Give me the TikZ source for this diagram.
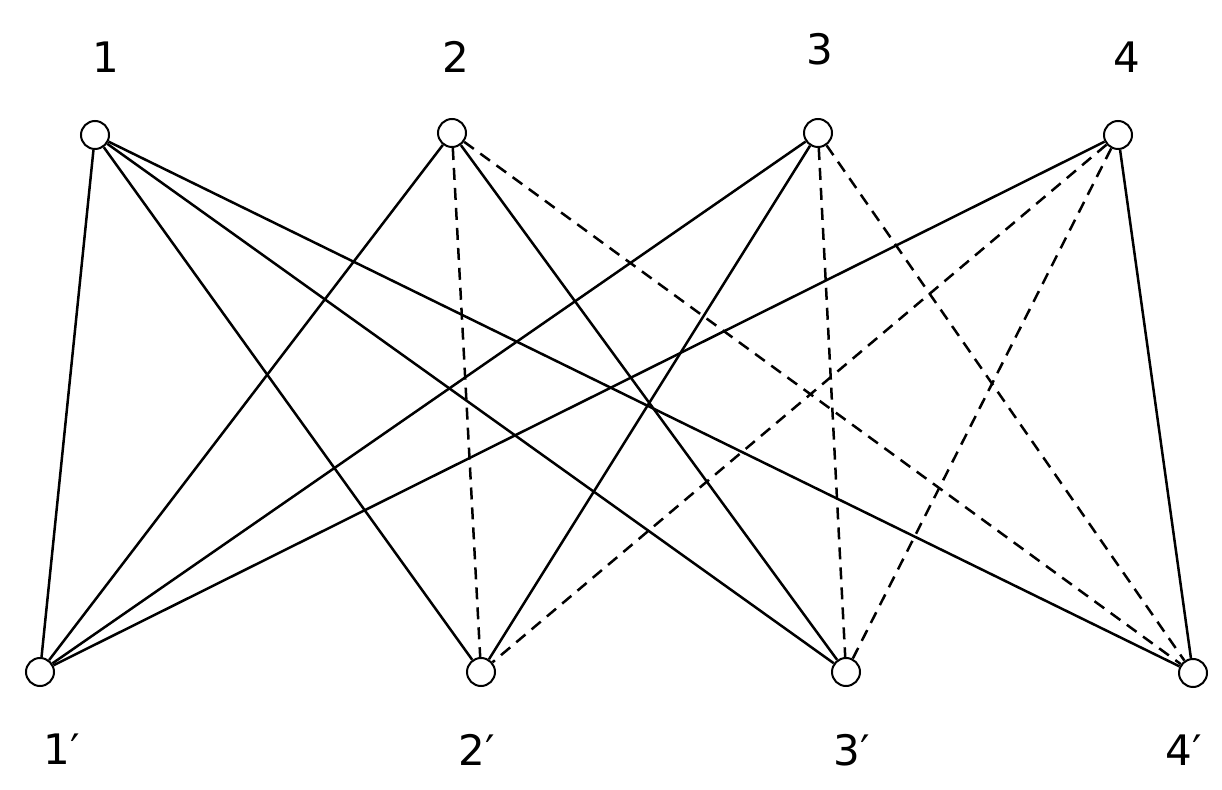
\documentclass[tikz,border=0pt]{standalone}
\usepackage{fontspec}
\setmainfont{DejaVu Sans}
\usetikzlibrary{positioning}

\begin{document}
\begin{tikzpicture}[x=0.5pt, y=-0.5pt,
        vertex/.style={circle, draw, minimum size=14pt, inner sep=0pt, line width=1pt},
        numlabel/.style={font=\fontsize{21}{24}\selectfont, inner sep=0pt},
        full/.style={line width=1.25pt},
        broken/.style={line width=1.25pt, dash pattern=on 6pt off 4pt}]
                \useasboundingbox (0,0) rectangle (1222,790);
                % upper row
                \node[vertex] (t1) at (95,135)   {};
                \node[vertex] (t2) at (452,133)  {};
                \node[vertex] (t3) at (818,133)  {};
                \node[vertex] (t4) at (1118,135) {};
                % lower row
                \node[vertex] (b1) at (40,672)   {};
                \node[vertex] (b2) at (481,672)  {};
                \node[vertex] (b3) at (846,672)  {};
                \node[vertex] (b4) at (1193,673) {};
                % labels
                \node[numlabel] (n1) at (106,57)  {1};
                \node[numlabel] (n2) at (456,57)  {2};
                \node[numlabel] (n3) at (820,49)  {3};
                \node[numlabel] (n4) at (1127,57) {4};
                \node[numlabel] (m1) at (62,749)   {1′};
                \node[numlabel] (m2) at (477,750)  {2′};
                \node[numlabel] (m3) at (852,750)  {3′};
                \node[numlabel] (m4) at (1184,750) {4′};
                \path[full]
                (t1) edge (b1) (t1) edge (b2) (t1) edge (b3) (t1) edge (b4)
                (t2) edge (b1) (t2) edge (b3)
                (t3) edge (b1) (t3) edge (b2)
                (t4) edge (b1) (t4) edge (b4);
                \path[broken]
                (t2) edge (b2) (t2) edge (b4)
                (t3) edge (b3) (t3) edge (b4)
                (t4) edge (b2) (t4) edge (b3);
        \end{tikzpicture}
\end{document}
